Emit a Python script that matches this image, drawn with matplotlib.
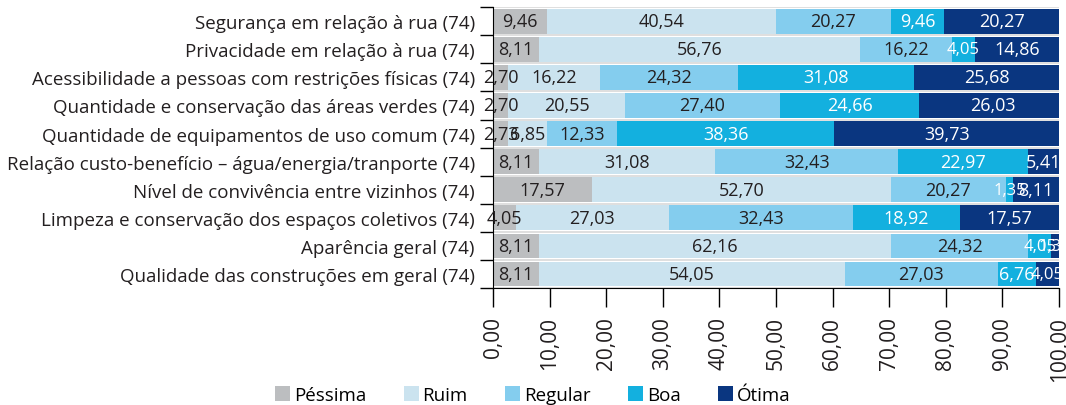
import numpy as np
import matplotlib.pyplot as plt

plt.rcParams['font.family'] = ['Open Sans', 'DejaVu Sans']

categorias = [
    'Segurança em relação à rua (74)',
    'Privacidade em relação à rua (74)',
    'Acessibilidade a pessoas com restrições físicas (74)',
    'Quantidade e conservação das áreas verdes (74)',
    'Quantidade de equipamentos de uso comum (74)',
    'Relação custo-benefício – água/energia/tranporte (74)',
    'Nível de convivência entre vizinhos (74)',
    'Limpeza e conservação dos espaços coletivos (74)',
    'Aparência geral (74)',
    'Qualidade das construções em geral (74)',
]
pessima = [9.46, 8.11, 2.70, 2.70, 2.73, 8.11, 17.57, 4.05, 8.11, 8.11]
ruim = [40.54, 56.76, 16.22, 20.55, 6.85, 31.08, 52.70, 27.03, 62.16, 54.05]
regular = [20.27, 16.22, 24.32, 27.40, 12.33, 32.43, 20.27, 32.43, 24.32, 27.03]
boa = [9.46, 4.05, 31.08, 24.66, 38.36, 22.97, 1.35, 18.92, 4.05, 6.76]
otima = [20.27, 14.86, 25.68, 26.03, 39.73, 5.41, 8.11, 17.57, 1.35, 4.05]

series = ['Péssima', 'Ruim', 'Regular', 'Boa', 'Ótima']
cores = ['#bcbec0', '#cbe3ef', '#84cdee', '#13b0df', '#0a3680']
cor_texto = ['#231f20', '#231f20', '#231f20', 'white', 'white']

dados = np.array([pessima, ruim, regular, boa, otima])
n = len(categorias)
y = np.arange(n)

fig = plt.figure(figsize=(10.66, 4.06), dpi=100)
ax = fig.add_axes([0.4625, 0.288, 0.531, 0.692])

esq = np.zeros(n)
for i, nome in enumerate(series):
    ax.barh(y, dados[i], left=esq, height=0.88, color=cores[i],
            label=nome, zorder=2)
    for j in range(n):
        v = dados[i, j]
        txt = f'{v:.2f}'.replace('.', ',')
        if i >= 3 and v < 5:
            # valores estreitos em fonte condensada
            ax.text(esq[j] + v / 2, y[j], txt, ha='center', va='center',
                    fontsize=12, color=cor_texto[i], zorder=3, clip_on=False,
                    family=['Liberation Sans Narrow', 'Open Sans'])
        else:
            ax.text(esq[j] + v / 2, y[j], txt, ha='center', va='center',
                    fontsize=13, color=cor_texto[i], zorder=3, clip_on=False)
    esq += dados[i]

# linhas cinza entre as barras
for b in np.arange(n + 1) - 0.5:
    ax.axhline(b, color='#d9d9d9', linewidth=1.2, zorder=1)

ax.set_xlim(0, 100)
ax.set_ylim(n - 0.5, -0.5)
ax.set_yticks(y)
ax.set_yticklabels(categorias, fontsize=13.5, color='#231f20')
ax.tick_params(axis='y', which='major', length=0, pad=13)
ax.set_yticks(np.arange(n + 1) - 0.5, minor=True)
ax.tick_params(axis='y', which='minor', length=9.5, width=1)

xt = np.arange(0, 101, 10)
ax.set_xticks(xt)
ax.set_xticklabels([f'{v:.2f}'.replace('.', ',') for v in xt],
                   rotation=90, fontsize=15, color='#231f20')
ax.tick_params(axis='x', length=14, width=1, pad=6)

ax.spines['top'].set_visible(False)
ax.spines['right'].set_visible(False)

fig.legend(loc='lower center', bbox_to_anchor=(0.5, -0.025), ncol=5,
           frameon=False, fontsize=13.5, handlelength=0.8, handleheight=0.8,
           handletextpad=0.2, columnspacing=2.0, borderaxespad=0.2)

plt.savefig('out.png')
